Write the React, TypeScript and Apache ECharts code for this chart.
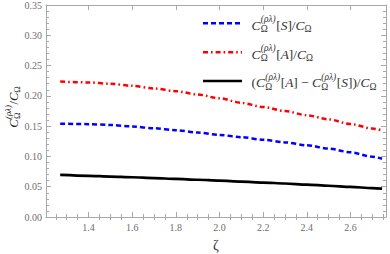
import React, { useEffect, useRef } from "react";
import * as echarts from "echarts";

// ---- data ----
const zeta = [1.27, 1.4, 1.5, 1.6, 1.7, 1.8, 1.9, 2.0, 2.1, 2.2, 2.3, 2.4, 2.5, 2.6, 2.7, 2.745];
const symRatio = [0.1541, 0.1533, 0.1520, 0.1495, 0.1464, 0.1432, 0.1395, 0.1355, 0.1318, 0.1276, 0.1232, 0.1184, 0.1130, 0.1068, 0.0995, 0.0962];
const antiRatio = [0.2235, 0.2222, 0.2200, 0.2165, 0.2122, 0.2078, 0.2022, 0.1960, 0.1884, 0.1817, 0.1749, 0.1680, 0.1612, 0.1535, 0.1460, 0.1430];
const diffRatio = [0.0694, 0.0680, 0.0668, 0.0656, 0.0643, 0.0629, 0.0615, 0.0600, 0.0585, 0.0569, 0.0553, 0.0535, 0.0516, 0.0497, 0.0478, 0.0469];

const xTickLabels = [1.4, 1.6, 1.8, 2.0, 2.2, 2.4, 2.6];
const xMinorTicks = [1.25, 1.3, 1.35, 1.45, 1.5, 1.55, 1.65, 1.7, 1.75, 1.85, 1.9, 1.95, 2.05, 2.1, 2.15, 2.25, 2.3, 2.35, 2.45, 2.5, 2.55, 2.65, 2.7, 2.75];
const xMin = 1.205;
const xMax = 2.763;
const yMin = 0;
const yMax = 0.35;
const yStep = 0.05;

const SERIF = '"Liberation Serif", "DejaVu Serif", serif';
const FRAME = "#a8a8a8";
const LABEL = "#6e6e6e";

type Seg = { k: "n" | "i" | "ss" | "sub"; s?: string; sup?: string; sub?: string };

let ctx: CanvasRenderingContext2D | null = null;
function measure(text: string, size: number, italic: boolean) {
  if (!ctx) ctx = document.createElement("canvas").getContext("2d");
  if (!ctx) return text.length * size * 0.5;
  ctx.font = `${italic ? "italic " : ""}${size}px ${SERIF}`;
  return ctx.measureText(text).width;
}

function formula(segs: Seg[], size: number, color: string) {
  const small = Math.round(size * 0.7 * 10) / 10;
  let x = 0;
  const els: any[] = [];
  const txt = (s: string, px: number, py: number, sz: number, italic: boolean) => ({
    type: "text",
    x: px,
    y: py,
    style: {
      text: s,
      fontSize: sz,
      fontFamily: SERIF,
      fontStyle: italic ? "italic" : "normal",
      fill: color,
      align: "left",
      verticalAlign: "middle",
    },
  });
  for (const seg of segs) {
    if (seg.k === "n" || seg.k === "i") {
      const it = seg.k === "i";
      els.push(txt(seg.s!, x, 0, size, it));
      x += measure(seg.s!, size, it);
    } else if (seg.k === "ss") {
      els.push(txt(seg.sup!, x + 0.4, -size * 0.42, small, true));
      els.push(txt(seg.sub!, x + 0.4, size * 0.3, small, false));
      x += Math.max(measure(seg.sup!, small, true), measure(seg.sub!, small, false)) + 1;
    } else {
      els.push(txt(seg.s!, x, size * 0.3, small, false));
      x += measure(seg.s!, small, false);
    }
  }
  return { els, width: x };
}

const cRL: Seg[] = [{ k: "i", s: "C" }, { k: "ss", sup: "(ρλ)", sub: "Ω" }];
const cO: Seg[] = [{ k: "i", s: "C" }, { k: "sub", s: "Ω" }];

const legendS: Seg[] = [...cRL, { k: "n", s: "[" }, { k: "i", s: "S" }, { k: "n", s: "]/" }, ...cO];
const legendA: Seg[] = [...cRL, { k: "n", s: "[" }, { k: "i", s: "A" }, { k: "n", s: "]/" }, ...cO];
const legendD: Seg[] = [
  { k: "n", s: "(" },
  ...cRL,
  { k: "n", s: "[" },
  { k: "i", s: "A" },
  { k: "n", s: "] − " },
  ...cRL,
  { k: "n", s: "[" },
  { k: "i", s: "S" },
  { k: "n", s: "])/" },
  ...cO,
];
const yLabel: Seg[] = [...cRL, { k: "n", s: "/" }, ...cO];

export default function App() {
  const ref = useRef<HTMLDivElement>(null);
  useEffect(() => {
    if (!ref.current) return;
    const chart = echarts.init(ref.current, undefined, { renderer: "svg" });

    const pairs = (ys: number[]) => zeta.map((z, i) => [z, ys[i]]);
    const LS = 13.4;
    const fS = formula(legendS, LS, "#333");
    const fA = formula(legendA, LS, "#333");
    const fD = formula(legendD, LS, "#333");
    const fY = formula(yLabel, 12.5, "#222");

    const legendX1 = 203;
    const legendX2 = 242;
    const textX = 251.5;
    const rows = [
      { y: 23.3, color: "#0000ff", dash: [5, 3], width: 2.5, f: fS },
      { y: 52.3, color: "#ff0000", dash: [5, 3, 1.6, 3], width: 2.5, f: fA },
      { y: 81, color: "#000000", dash: null as any, width: 2.7, f: fD },
    ];

    const graphic: any[] = [];
    rows.forEach((r) => {
      graphic.push({
        type: "line",
        shape: { x1: legendX1, y1: r.y, x2: legendX2, y2: r.y },
        style: { stroke: r.color, lineWidth: r.width, lineDash: r.dash || undefined, lineCap: "butt" },
        z: 10,
      });
      graphic.push({ type: "group", x: textX, y: r.y + 1.8, children: r.f.els, z: 10 });
    });
    graphic.push({
      type: "group",
      x: 13.5,
      y: 107,
      rotation: Math.PI / 2,
      children: fY.els.map((e: any) => ({ ...e, x: e.x - fY.width / 2 })),
    });
    graphic.push({
      type: "text",
      x: 216,
      y: 245,
      style: { text: "ζ", fontSize: 14, fontFamily: SERIF, fill: "#333", align: "center", verticalAlign: "middle" },
    });

    const baseX = (pos: "bottom" | "top") => ({
      type: "value",
      position: pos,
      min: xMin,
      max: xMax,
      axisLine: { show: true, onZero: false, lineStyle: { color: FRAME, width: 1 } },
      splitLine: { show: false },
    });

    const baseY = (pos: "left" | "right", labels: boolean) => ({
      type: "value",
      position: pos,
      min: yMin,
      max: yMax,
      interval: yStep,
      axisLine: { show: true, onZero: false, lineStyle: { color: FRAME, width: 1 } },
      axisTick: { show: true, inside: true, length: 5, lineStyle: { color: FRAME } },
      minorTick: { show: true, splitNumber: 5, length: 3, lineStyle: { color: FRAME } },
      splitLine: { show: false },
      axisLabel: {
        show: labels,
        formatter: (v: number) => v.toFixed(2),
        color: LABEL,
        fontFamily: SERIF,
        fontSize: 10,
        margin: 4,
      },
    });

    const lineSeries = (ys: number[], color: string, width: number, type: any) => ({
      type: "line",
      data: pairs(ys),
      showSymbol: false,
      smooth: 0.3,
      smoothMonotone: "x",
      lineStyle: { color, width, type, cap: "butt" },
    });

    chart.setOption({
      animation: false,
      grid: { left: 46, right: 4, top: 5, bottom: 37, containLabel: false },
      xAxis: [
        {
          ...baseX("bottom"),
          axisTick: { show: true, inside: true, length: 5, customValues: xTickLabels, lineStyle: { color: FRAME } },
          axisLabel: {
            show: true,
            customValues: xTickLabels,
            formatter: (v: number) => v.toFixed(1),
            color: LABEL,
            fontFamily: SERIF,
            fontSize: 10,
            margin: 5,
          },
        },
        {
          ...baseX("bottom"),
          axisLine: { show: false },
          axisTick: { show: true, inside: true, length: 3, customValues: xMinorTicks, lineStyle: { color: FRAME } },
          axisLabel: { show: false },
        },
        {
          ...baseX("top"),
          axisTick: { show: true, inside: true, length: 5, customValues: xTickLabels, lineStyle: { color: FRAME } },
          axisLabel: { show: false },
        },
        {
          ...baseX("top"),
          axisLine: { show: false },
          axisTick: { show: true, inside: true, length: 3, customValues: xMinorTicks, lineStyle: { color: FRAME } },
          axisLabel: { show: false },
        },
      ],
      yAxis: [baseY("left", true), baseY("right", false)],
      series: [
        lineSeries(symRatio, "#0000ff", 2.5, [5, 3]),
        lineSeries(antiRatio, "#ff0000", 2.5, [5, 3, 1.6, 3]),
        lineSeries(diffRatio, "#000000", 2.7, "solid"),
      ],
      graphic,
    });
    return () => chart.dispose();
  }, []);
  return <div ref={ref} style={{ width: 390, height: 254, position: "absolute", left: 0, top: 0 }} />;
}
